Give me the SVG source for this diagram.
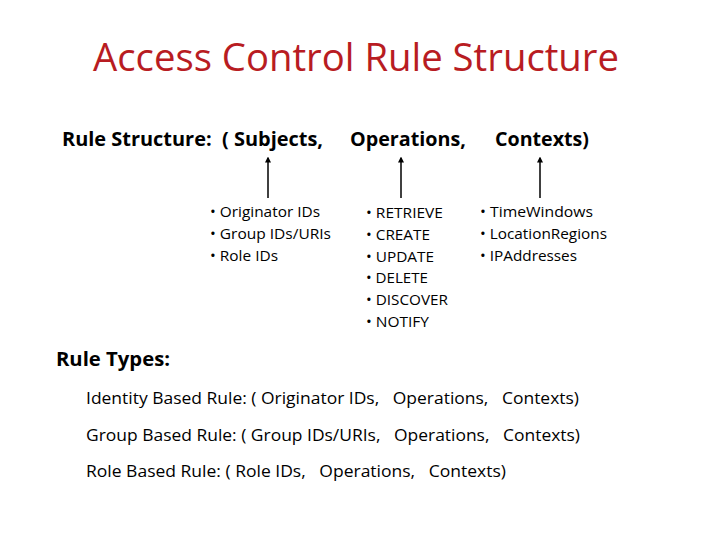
<svg xmlns="http://www.w3.org/2000/svg" width="720" height="540" viewBox="0 0 720 540">
<defs>
<style>
text{font-family:"Open Sans","Noto Sans","Liberation Sans",sans-serif;fill:#000;white-space:pre}
.title{font-size:38px;fill:#b81c22}
.hdr{font-size:19px;font-weight:bold}
.bul{font-size:14.5px}
.rule{font-size:16.5px}
.conn{stroke:#000;stroke-width:1.5;fill:none;marker-end:url(#ah)}
</style>
<marker id="ah" viewBox="0 0 8 8" refX="6" refY="4" markerWidth="4" markerHeight="4" orient="auto" markerUnits="strokeWidth">
<path d="M0,0 L8,4 L0,8 z" fill="#000"/>
</marker>
</defs>
<rect width="720" height="540" fill="#fff"/>
<g id="title"><text class="title" x="93" y="71" textLength="526" lengthAdjust="spacingAndGlyphs">Access Control Rule Structure</text></g>
<g id="structure">
<text class="hdr" x="62" y="146" textLength="261" lengthAdjust="spacingAndGlyphs" xml:space="preserve">Rule Structure:  ( Subjects,</text>
<text class="hdr" x="350" y="146" textLength="116" lengthAdjust="spacingAndGlyphs">Operations,</text>
<text class="hdr" x="495" y="146" textLength="94" lengthAdjust="spacingAndGlyphs">Contexts)</text>
</g>
<g id="connectors">
<line class="conn" x1="268" y1="198" x2="268" y2="158"/>
<line class="conn" x1="401" y1="198" x2="401" y2="158"/>
<line class="conn" x1="540" y1="198" x2="540" y2="158"/>
</g>
<g id="subjects">
<text class="bul" x="210" y="217" textLength="110" lengthAdjust="spacingAndGlyphs">• Originator IDs</text>
<text class="bul" x="210" y="239" textLength="121" lengthAdjust="spacingAndGlyphs">• Group IDs/URIs</text>
<text class="bul" x="210" y="261" textLength="68" lengthAdjust="spacingAndGlyphs">• Role IDs</text>
</g>
<g id="operations">
<text class="bul" x="366" y="218" textLength="77" lengthAdjust="spacingAndGlyphs">• RETRIEVE</text>
<text class="bul" x="366" y="240" textLength="64" lengthAdjust="spacingAndGlyphs">• CREATE</text>
<text class="bul" x="366" y="262" textLength="68" lengthAdjust="spacingAndGlyphs">• UPDATE</text>
<text class="bul" x="366" y="283" textLength="62" lengthAdjust="spacingAndGlyphs">• DELETE</text>
<text class="bul" x="366" y="305" textLength="82" lengthAdjust="spacingAndGlyphs">• DISCOVER</text>
<text class="bul" x="366" y="327" textLength="63" lengthAdjust="spacingAndGlyphs">• NOTIFY</text>
</g>
<g id="contexts">
<text class="bul" x="480" y="217" textLength="113" lengthAdjust="spacingAndGlyphs">• TimeWindows</text>
<text class="bul" x="480" y="239" textLength="127" lengthAdjust="spacingAndGlyphs">• LocationRegions</text>
<text class="bul" x="480" y="261" textLength="97" lengthAdjust="spacingAndGlyphs">• IPAddresses</text>
</g>
<g id="ruletypes">
<text class="hdr" x="56" y="366" textLength="114" lengthAdjust="spacingAndGlyphs">Rule Types:</text>
<text class="rule" x="86" y="404" textLength="493" lengthAdjust="spacingAndGlyphs" xml:space="preserve">Identity Based Rule: ( Originator IDs,   Operations,   Contexts)</text>
<text class="rule" x="86" y="441" textLength="494" lengthAdjust="spacingAndGlyphs" xml:space="preserve">Group Based Rule: ( Group IDs/URIs,   Operations,   Contexts)</text>
<text class="rule" x="86" y="477" textLength="420" lengthAdjust="spacingAndGlyphs" xml:space="preserve">Role Based Rule: ( Role IDs,   Operations,   Contexts)</text>
</g>
</svg>
